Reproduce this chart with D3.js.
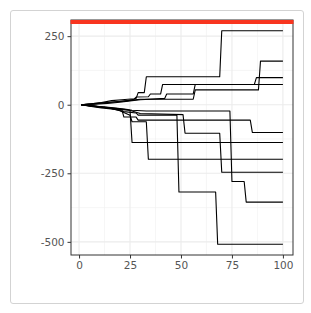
<html>
<head>
  <meta charset="utf-8">
  <script src="https://d3js.org/d3.v7.min.js"></script>
  <style>
    body{ margin: 0; background: #fff; }
    .card{
        position: absolute; left: 10px; top: 10px;
        width: 292px; height: 292px;
        border: 1px solid #d3d3d3; border-radius: 3px;
    }
    svg{ position: absolute; left: 0; top: 0; }
  </style>
</head>
<body>
<div class="card"></div>
<svg id="chart" width="311" height="313"></svg>
<script>
// random walks, vertices as [step, value]
const walk1 = [[1,0],[6,3],[11,8],[16,15],[21,18],[27,22],[28,23],[29,44],[32,44],[33,102],[69,102],[70,270],[100,270]];
const walk2 = [[1,0],[7,4],[13,8],[19,12],[25,16],[30,20],[56,20],[57,54],[88,54],[89,159],[100,159]];
const walk3 = [[1,0],[7,3],[13,7],[19,11],[24,15],[27,20],[28,28],[34,29],[35,39],[40,39],[41,74],[86,74],[87,99],[100,99]];
const walk4 = [[1,0],[8,2],[14,5],[20,9],[25,14],[30,18],[42,23],[43,39],[56,39],[57,74],[100,74]];
const walk5 = [[1,0],[6,-5],[12,-10],[18,-15],[21,-18],[22,-45],[28,-45],[29,-56],[84,-56],[85,-101],[100,-101]];
const walk6 = [[1,0],[6,-6],[11,-12],[17,-16],[25,-20],[26,-138],[100,-138]];
const walk7 = [[1,0],[7,-5],[14,-11],[20,-22],[25,-38],[26,-62],[33,-62],[34,-199],[100,-199]];
const walk8 = [[1,0],[6,-3],[12,-8],[18,-12],[24,-18],[30,-32],[51,-36],[52,-104],[69,-104],[70,-246],[100,-246]];
const walk9 = [[1,0],[8,-6],[15,-12],[22,-25],[28,-30],[29,-38],[48,-38],[49,-318],[67,-318],[68,-509],[100,-509]];
const walk10 = [[1,0],[6,-4],[13,-9],[20,-15],[26,-20],[33,-23],[74,-23],[75,-280],[81,-280],[82,-355],[100,-355]];
const walks = [walk1, walk2, walk3, walk4, walk5, walk6, walk7, walk8, walk9, walk10];

const xTicks = [0, 25, 50, 75, 100];
const xMinor = [12.5, 37.5, 62.5, 87.5];
const yTicks = [-500, -250, 0, 250];
const yMinor = [-375, -125, 125];

const svg = d3.select("#chart");
const panel = {left: 71, right: 293, top: 20, bottom: 255};

// ggplot style 5% expansion
const xExt = d3.extent(walks.flat(), d => d[0]);
const yExt = d3.extent(walks.flat(), d => d[1]);
const xPad = (xExt[1] - xExt[0]) * 0.05;
const yPad = (yExt[1] - yExt[0]) * 0.05;
const x = d3.scaleLinear().domain([xExt[0] - xPad, xExt[1] + xPad]).range([panel.left, panel.right]);
const y = d3.scaleLinear().domain([yExt[0] - yPad, yExt[1] + yPad]).range([panel.bottom, panel.top]);

const grid = svg.append("g");
grid.selectAll(".xm").data(xMinor).join("line")
    .attr("x1", d => x(d)).attr("x2", d => x(d))
    .attr("y1", panel.top).attr("y2", panel.bottom)
    .attr("stroke", "#f0f0f0").attr("stroke-width", 0.6);
grid.selectAll(".ym").data(yMinor).join("line")
    .attr("y1", d => y(d)).attr("y2", d => y(d))
    .attr("x1", panel.left).attr("x2", panel.right)
    .attr("stroke", "#f0f0f0").attr("stroke-width", 0.6);
grid.selectAll(".xM").data(xTicks).join("line")
    .attr("x1", d => x(d)).attr("x2", d => x(d))
    .attr("y1", panel.top).attr("y2", panel.bottom)
    .attr("stroke", "#ebebeb").attr("stroke-width", 1.1);
grid.selectAll(".yM").data(yTicks).join("line")
    .attr("y1", d => y(d)).attr("y2", d => y(d))
    .attr("x1", panel.left).attr("x2", panel.right)
    .attr("stroke", "#ebebeb").attr("stroke-width", 1.1);

const line = d3.line().x(d => x(d[0])).y(d => y(d[1]));
svg.append("g").selectAll("path").data(walks).join("path")
    .attr("d", line)
    .attr("fill", "none")
    .attr("stroke", "#000")
    .attr("stroke-width", 1.1)
    .attr("stroke-linejoin", "round");

// panel border
svg.append("rect")
    .attr("x", panel.left).attr("y", panel.top)
    .attr("width", panel.right - panel.left).attr("height", panel.bottom - panel.top)
    .attr("fill", "none").attr("stroke", "#333").attr("stroke-width", 1);

// red bar along the top of the panel
svg.append("rect")
    .attr("x", panel.left - 0.5).attr("y", y(y.domain()[1]))
    .attr("width", panel.right - panel.left + 1).attr("height", 4)
    .attr("fill", "#f8351f");

const xAxis = svg.append("g")
    .attr("transform", `translate(0,${panel.bottom})`)
    .call(d3.axisBottom(x).tickValues(xTicks).tickFormat(d => String(d)).tickSize(3.5).tickPadding(3));
const yAxis = svg.append("g")
    .attr("transform", `translate(${panel.left},0)`)
    .call(d3.axisLeft(y).tickValues(yTicks).tickFormat(d => String(d)).tickSize(3.5).tickPadding(3));
[xAxis, yAxis].forEach(a => {
    a.select(".domain").remove();
    a.selectAll(".tick line").attr("stroke", "#333");
    a.selectAll(".tick text")
        .attr("fill", "#555")
        .style("font-family", "DejaVu Sans")
        .style("font-size", "10.5px");
});
</script>
</body>
</html>
